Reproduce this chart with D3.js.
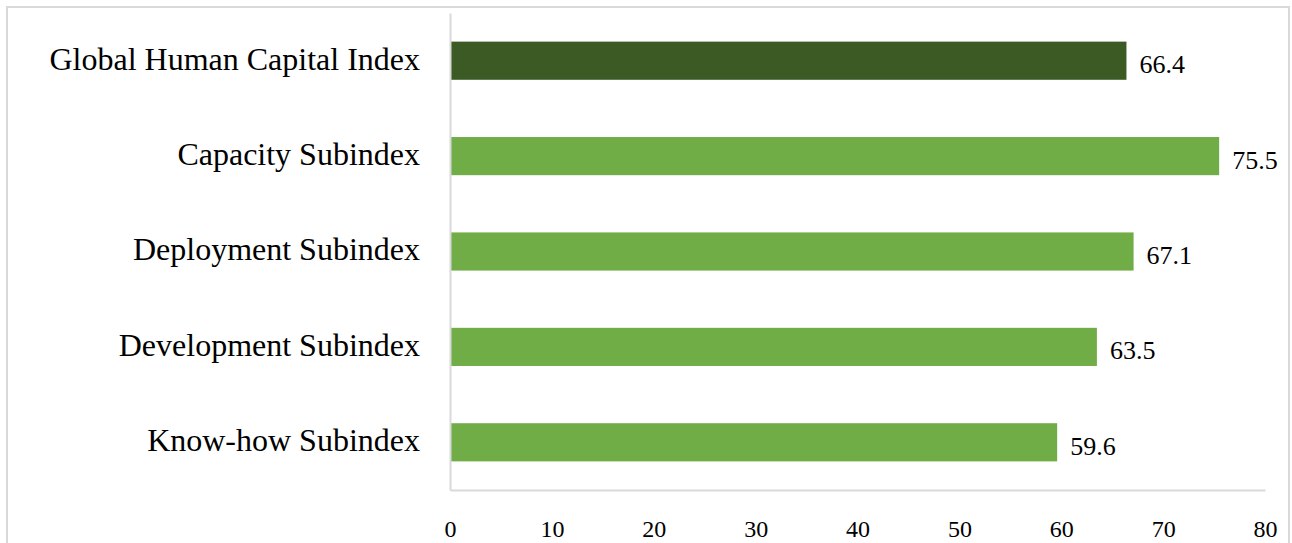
<!DOCTYPE html>
<html>
<head>
<meta charset="utf-8">
<script src="https://cdn.jsdelivr.net/npm/d3@7/dist/d3.min.js"></script>
<style>
  html, body { margin: 0; padding: 0; background: #ffffff; }
  svg { display: block; }
</style>
</head>
<body>
<script>
// Index scores, top to bottom
const categories = [
  "Global Human Capital Index",
  "Capacity Subindex",
  "Deployment Subindex",
  "Development Subindex",
  "Know-how Subindex"
];
const scores = [66.4, 75.5, 67.1, 63.5, 59.6];
const tickValues = [0, 10, 20, 30, 40, 50, 60, 70, 80];

const W = 1292, H = 543;
const margin = { left: 450, right: 27, top: 13, bottom: 53 };
const serif = "'Liberation Serif', 'Times New Roman', serif";

const svg = d3.select("body").append("svg")
  .attr("width", W).attr("height", H);

// chart frame
svg.append("rect")
  .attr("x", 7).attr("y", 7)
  .attr("width", 1282).attr("height", 560)
  .attr("fill", "none")
  .attr("stroke", "#d9d9d9")
  .attr("stroke-width", 2);

const x = d3.scaleLinear().domain([0, 80]).range([margin.left, W - margin.right]);
const y = d3.scaleBand().domain(categories)
  .range([margin.top, H - margin.bottom])
  .paddingInner(0.6).paddingOuter(0.3);

// bars
svg.append("g").selectAll("rect")
  .data(categories)
  .join("rect")
  .attr("x", x(0))
  .attr("y", d => y(d))
  .attr("width", (d, i) => x(scores[i]) - x(0))
  .attr("height", y.bandwidth())
  .attr("fill", (d, i) => i === 0 ? "#3b5a24" : "#70ad47");

// value labels
svg.append("g").selectAll("text")
  .data(categories)
  .join("text")
  .attr("x", (d, i) => x(scores[i]) + 13)
  .attr("y", d => y(d) + y.bandwidth() / 2)
  .attr("dy", "0.48em")
  .attr("font-family", serif)
  .attr("font-size", 26)
  .attr("fill", "#000")
  .text((d, i) => scores[i].toFixed(1));

// category axis
const yAxis = svg.append("g")
  .attr("transform", `translate(${x(0)},0)`)
  .call(d3.axisLeft(y).tickSize(0).tickPadding(30));
yAxis.select(".domain").attr("stroke", "#d9d9d9").attr("stroke-width", 2);
yAxis.selectAll("text")
  .attr("font-family", serif)
  .attr("font-size", 32)
  .attr("fill", "#000")
  .attr("dy", "0.28em");

// value axis
const xAxis = svg.append("g")
  .attr("transform", `translate(0,${H - margin.bottom})`)
  .call(d3.axisBottom(x).tickValues(tickValues).tickSize(0).tickPadding(30));
xAxis.select(".domain").attr("stroke", "#d9d9d9").attr("stroke-width", 2);
xAxis.selectAll("text")
  .attr("font-family", serif)
  .attr("font-size", 24)
  .attr("fill", "#000");
</script>
</body>
</html>
